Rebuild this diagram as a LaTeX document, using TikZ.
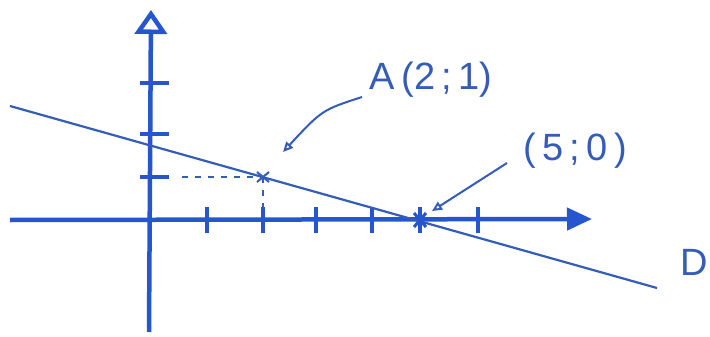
\documentclass[tikz,border=0pt]{standalone}
\usepackage{fontspec}
\setmainfont{Liberation Sans}
\usetikzlibrary{arrows.meta}
\definecolor{pen}{RGB}{38,86,205}
\definecolor{penlight}{RGB}{52,92,185}
\begin{document}
\begin{tikzpicture}[x=1pt,y=-1pt,
  axis/.style={pen,line width=4.5pt},
  tickmark/.style={pen,line width=3.5pt},
  dline/.style={penlight,line width=2.2pt},
  helper/.style={penlight,line width=2pt,dash pattern=on 6pt off 7pt},
  lbl/.style={penlight,inner sep=0pt,font=\fontsize{38}{44}\selectfont},
  pointer/.style={penlight,line width=2pt,-{Triangle[open,length=10pt,width=9pt]}}]
\useasboundingbox (0,0) rectangle (710,337);
\fill[white] (0,0) rectangle (710,337);
% axes
\coordinate (ybot) at (149,332);
\coordinate (ytop) at (151,10);
\coordinate (xleft) at (10,220);
\coordinate (xright) at (592,219);
\draw[axis,-{Triangle[open,length=24pt,width=32pt]}] (ybot) -- (ytop);
\draw[axis,-{Triangle[length=25pt,width=22pt]}] (xleft) -- (xright);
% ticks on x axis
\foreach \x in {207,263,316,372,420,478}
  \draw[tickmark] (\x,207) -- (\x,233);
% ticks on y axis
\foreach \y in {83,134,177}
  \draw[tickmark] (140,\y) -- (169,\y);
% line D
\coordinate (d1) at (10,106);
\coordinate (d2) at (657,288);
\draw[dline] (d1) -- (d2);
% point A and helper lines
\coordinate (A) at (263,177);
\coordinate (Ay) at (182,177);
\coordinate (Ax) at (263,212);
\draw[helper] (Ay) -- (A);
\draw[helper] (A) -- (Ax);
\draw[penlight,line width=2pt] (257,172) -- (269,182) (269,172) -- (257,182);
% point (5;0)
\coordinate (P) at (420,220);
\draw[pen,line width=3pt] (414,213) -- (426,227) (426,213) -- (414,227);
% labels
\node[lbl] (labelA) at (431,80) {A\,(2\,;\,1)};
\node[lbl] (labelP) at (575,151) {(\,5\,;\,0\,)};
\node[lbl,anchor=west] (labelD) at (680,262) {D};
% pointers
\coordinate (pA1) at (362,97);
\coordinate (pA2) at (283,152);
\coordinate (pP1) at (507,163);
\coordinate (pP2) at (432,211);
\draw[pointer] (pA1) .. controls (322,110) .. (pA2);
\draw[pointer] (pP1) -- (pP2);
\end{tikzpicture}
\end{document}
